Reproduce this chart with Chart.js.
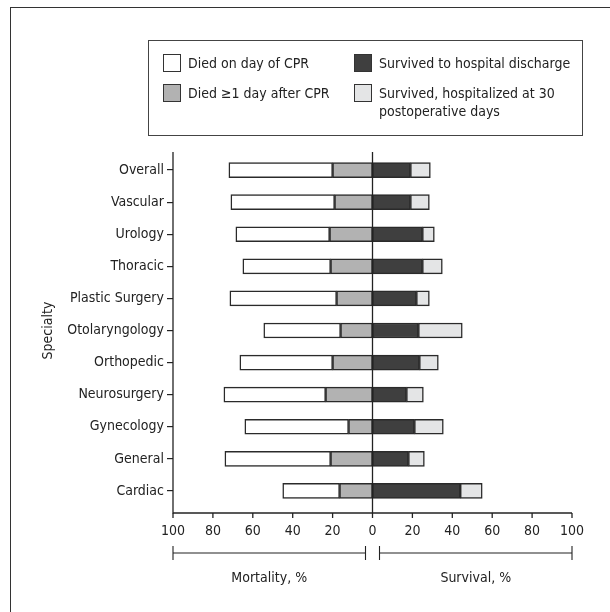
<!DOCTYPE html>
<html>
<head>
<meta charset="utf-8">
<script src="https://cdn.jsdelivr.net/npm/chart.js@4"></script>
<style>
  html, body { margin: 0; padding: 0; background: #fff; overflow: hidden; }
  #wrap { position: relative; width: 610px; height: 612px; }
  #frame { position: absolute; left: 10px; top: 7px; width: 700px; height: 700px;
           border-left: 1.5px solid #333; border-top: 1.5px solid #333; }
  #legend { position: absolute; left: 148px; top: 40px; width: 433px; height: 94px;
            border: 1.2px solid #444; font-family: 'DejaVu Sans Condensed', sans-serif;
            font-size: 14px; color: #222; }
  .item { position: absolute; display: flex; align-items: flex-start; }
  .sw { width: 18px; height: 18px; border: 1px solid #333; box-sizing: border-box; flex: none; }
  .txt { margin-left: 7px; line-height: 18px; width: 215px; }
  canvas { position: absolute; left: 0; top: 0; }
</style>
</head>
<body>
<div id="wrap">
  <div id="frame"></div>
  <canvas id="chart" width="610" height="612"></canvas>
  <div id="legend"></div>
</div>
<script>
(function () {
  "use strict";

  const specialties = [
    "Overall", "Vascular", "Urology", "Thoracic", "Plastic Surgery",
    "Otolaryngology", "Orthopedic", "Neurosurgery", "Gynecology", "General", "Cardiac",
  ];
  // mortality (left side, %)
  const diedAfterCPR = [20, 19, 21.5, 21, 18, 16, 20, 23.5, 12, 21, 16.5];
  const diedDayOfCPR = [52, 52, 47, 44, 53.5, 38.5, 46.5, 51, 52, 53, 28.5];
  // survival (right side, %)
  const survivedDischarge = [19, 19, 25, 25, 22, 23, 23.5, 17, 21, 18, 44];
  const survivedHospitalized = [10, 9.5, 6, 10, 6.5, 22, 9.5, 8.5, 14.5, 8, 11];
  const xTicks = [-100, -80, -60, -40, -20, 0, 20, 40, 60, 80, 100];

  const FONT = "'DejaVu Sans Condensed', sans-serif";
  const INK = "#222";

  const ds = (label, data, color) => ({
    label, data, backgroundColor: color,
    borderColor: "#2a2a2a", borderWidth: 1.5, borderSkipped: false,
    barThickness: 15,
  });

  const datasets = [
    ds("Died ≥1 day after CPR", diedAfterCPR.map((v) => -v), "#b2b2b2"),
    ds("Died on day of CPR", diedDayOfCPR.map((v) => -v), "#ffffff"),
    ds("Survived to hospital discharge", survivedDischarge, "#3f3f3f"),
    ds("Survived, hospitalized at 30 postoperative days", survivedHospitalized, "#e4e5e6"),
  ];

  // legend: two columns, row-major
  const legendOrder = [1, 2, 0, 3];
  const legendEl = document.getElementById("legend");
  legendOrder.forEach((di, i) => {
    const d = datasets[di];
    const item = document.createElement("div");
    item.className = "item";
    item.style.left = (i % 2 ? 205 : 14) + "px";
    item.style.top = (Math.floor(i / 2) ? 43 : 13) + "px";
    item.innerHTML = `<div class="sw" style="background:${d.backgroundColor}"></div><div class="txt">${d.label}</div>`;
    legendEl.appendChild(item);
  });

  const axesPlugin = {
    id: "axes",
    afterDatasetsDraw(chart) {
      const { ctx, chartArea: a, scales: { x } } = chart;
      const axisY = a.bottom + 6;
      const top = a.top - 2;
      const line = (x1, y1, x2, y2) => {
        ctx.beginPath(); ctx.moveTo(x1, y1); ctx.lineTo(x2, y2); ctx.stroke();
      };
      ctx.save();
      ctx.strokeStyle = INK;
      ctx.lineWidth = 1.3;
      line(a.left, top, a.left, axisY + 0.6);
      const x0 = x.getPixelForValue(0);
      line(x0, top, x0, axisY);
      line(a.left, axisY, x.getPixelForValue(100), axisY);
      xTicks.forEach((t) => {
        const px = x.getPixelForValue(t);
        line(px, axisY, px, axisY + 5);
      });
      // brackets under the axis
      const by = axisY + 40;
      const l1 = x.getPixelForValue(-100), l2 = x0 - 7;
      const r1 = x0 + 7, r2 = x.getPixelForValue(100);
      ctx.lineWidth = 1.1;
      line(l1, by, l2, by); line(l1, by - 7, l1, by + 7); line(l2, by - 7, l2, by + 7);
      line(r1, by, r2, by); line(r1, by - 7, r1, by + 7); line(r2, by - 7, r2, by + 7);
      ctx.fillStyle = INK;
      ctx.font = "14px " + FONT;
      ctx.textAlign = "center";
      ctx.textBaseline = "middle";
      ctx.fillText("Mortality, %", (l1 + l2) / 2, by + 25);
      ctx.fillText("Survival, %", (r1 + r2) / 2, by + 25);
      ctx.restore();
    },
  };

  new Chart(document.getElementById("chart"), {
    type: "bar",
    data: { labels: specialties, datasets },
    plugins: [axesPlugin],
    options: {
      indexAxis: "y",
      responsive: false,
      animation: false,
      layout: { padding: { top: 154, left: 36, right: 38, bottom: 0 } },
      plugins: { legend: { display: false }, tooltip: { enabled: false } },
      scales: {
        x: {
          stacked: true,
          min: -100, max: 100,
          afterBuildTicks: (s) => { s.ticks = xTicks.map((v) => ({ value: v })); },
          afterFit: (s) => { s.height = 105; },
          grid: { display: false, drawTicks: false },
          border: { display: false },
          ticks: {
            color: INK, padding: 16, maxRotation: 0,
            font: { family: FONT, size: 14 },
            callback: (v) => String(Math.abs(v)),
          },
        },
        y: {
          stacked: true,
          afterFit: (s) => { s.width = 137; },
          grid: { offset: false, drawOnChartArea: false, drawTicks: true, tickLength: 6, color: INK, lineWidth: 1.2 },
          border: { display: false },
          ticks: { color: INK, padding: 3, font: { family: FONT, size: 14 } },
          title: { display: true, text: "Specialty", color: INK, font: { family: FONT, size: 14 } },
        },
      },
    },
  });
})();
</script>
</body>
</html>
